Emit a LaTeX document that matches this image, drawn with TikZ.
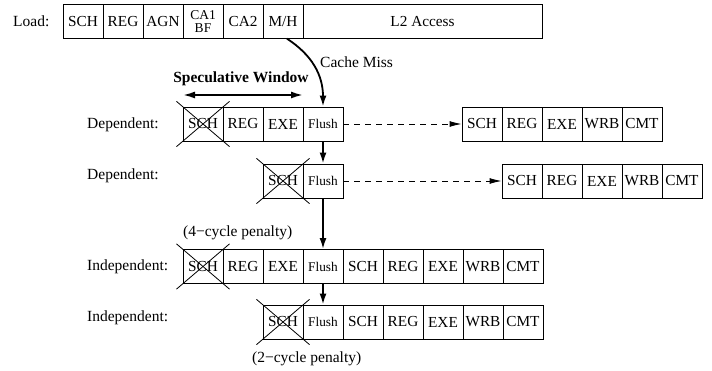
\documentclass[tikz,border=0pt]{standalone}
\usepackage{fontspec}
\setmainfont{Liberation Serif}
\usetikzlibrary{arrows.meta,calc}
\begin{document}
\begin{tikzpicture}[x=1pt,y=-1pt,
  cell/.style={draw,line width=0.9pt,minimum width=40pt,minimum height=34pt,inner sep=0pt,font=\fontsize{15.3}{16}\selectfont},
  flushcell/.style={cell,font=\fontsize{13.3}{14}\selectfont},
  lab/.style={anchor=west,inner sep=0pt,font=\fontsize{15.5}{17}\selectfont},
  note/.style={anchor=west,inner sep=0pt,font=\fontsize{15.5}{17}\selectfont},
  vflow/.style={line width=1.8pt,-{Latex[length=11pt,width=7pt]}},
  dflow/.style={line width=0.9pt,dashed,dash pattern=on 6pt off 5pt,-{Latex[length=12pt,width=6pt]}},
  xmark/.style={line width=0.8pt}
]
\useasboundingbox (0,0) rectangle (712,371);
% Load row
\node[lab] (loadlab) at (13,21.5) {Load:};
\node[cell,minimum height=33.5pt] (l1) at (83,21.5) {SCH};
\node[cell,minimum height=33.5pt] (l2) at (123,21.5) {REG};
\node[cell,minimum height=33.5pt] (l3) at (163,21.5) {AGN};
\node[cell,minimum height=33.5pt,align=center,font=\fontsize{13.5}{12.5}\selectfont] (l4) at (203,21.5) {CA1\\BF};
\node[cell,minimum height=33.5pt] (l5) at (243,21.5) {CA2};
\node[cell,minimum height=33.5pt] (mh) at (283,21.5) {M/H};
\node[cell,minimum height=33.5pt,minimum width=239pt] (l2a) at (422.5,21.5) {L2 Access};
% Speculative window
\node[inner sep=0pt,font=\bfseries\fontsize{15.5}{17}\selectfont] (spec) at (241,79) {Speculative Window};
\coordinate (sw1) at (183,95);
\coordinate (sw2) at (303,95);
\draw[line width=1.8pt,{Latex[length=12pt,width=7pt]}-{Latex[length=12pt,width=7pt]}] (sw1) -- (sw2);
% Row 1
\node[lab] (dep1) at (87,125) {Dependent:};
\node[cell] (a1) at (203,124) {SCH};
\node[cell] (a2) at (243,124) {REG};
\node[cell] (a3) at (283,124) {EXE};
\node[flushcell] (af) at (323,124) {Flush};
\node[cell] (ar1) at (482,124) {SCH};
\node[cell] (ar2) at (522,124) {REG};
\node[cell] (ar3) at (562,124) {EXE};
\node[cell] (ar4) at (602,124) {WRB};
\node[cell] (ar5) at (642,124) {CMT};
% Row 2
\node[lab] (dep2) at (87,176) {Dependent:};
\node[cell] (b1) at (283,181) {SCH};
\node[flushcell] (bf) at (323,181) {Flush};
\node[cell] (br1) at (522,181) {SCH};
\node[cell] (br2) at (562,181) {REG};
\node[cell] (br3) at (602,181) {EXE};
\node[cell] (br4) at (642,181) {WRB};
\node[cell] (br5) at (682,181) {CMT};
% Row 3
\node[note] (pen4) at (183,233) {(4−cycle penalty)};
\node[lab] (ind1) at (87,267) {Independent:};
\node[cell] (c1) at (203,266.5) {SCH};
\node[cell] (c2) at (243,266.5) {REG};
\node[cell] (c3) at (283,266.5) {EXE};
\node[flushcell] (cf) at (323,266.5) {Flush};
\node[cell] (c5) at (363,266.5) {SCH};
\node[cell] (c6) at (403,266.5) {REG};
\node[cell] (c7) at (443,266.5) {EXE};
\node[cell] (c8) at (483,266.5) {WRB};
\node[cell] (c9) at (523,266.5) {CMT};
% Row 4
\node[lab] (ind2) at (87,318) {Independent:};
\node[cell] (d1) at (283,322) {SCH};
\node[flushcell] (df) at (323,322) {Flush};
\node[cell] (d3) at (363,322) {SCH};
\node[cell] (d4) at (403,322) {REG};
\node[cell] (d5) at (443,322) {EXE};
\node[cell] (d6) at (483,322) {WRB};
\node[cell] (d7) at (523,322) {CMT};
\node[note] (pen2) at (252,359) {(2−cycle penalty)};
% crosses
\foreach \n in {a1,b1,c1,d1}{
  \draw[xmark] ($(\n.north west)!-0.15!(\n.south east)$) -- ($(\n.north west)!1.15!(\n.south east)$);
  \draw[xmark] ($(\n.south west)!-0.15!(\n.north east)$) -- ($(\n.south west)!1.15!(\n.north east)$);
}
% cache miss
\coordinate (cm0) at ([xshift=4pt]mh.south);
\draw[line width=1.8pt,-{Latex[length=11pt,width=7pt]}] (cm0) .. controls (312,55) and (323,75) .. (af.north);
\node[note] (cml) at (320,62) {Cache Miss};
% vertical arrows
\draw[vflow] (af.south) -- (bf.north);
\draw[vflow] (bf.south) -- (cf.north);
\draw[vflow] (cf.south) -- (df.north);
% dashed arrows
\draw[dflow] (af.east) -- (ar1.west);
\draw[dflow] (bf.east) -- (br1.west);
\end{tikzpicture}
\end{document}
